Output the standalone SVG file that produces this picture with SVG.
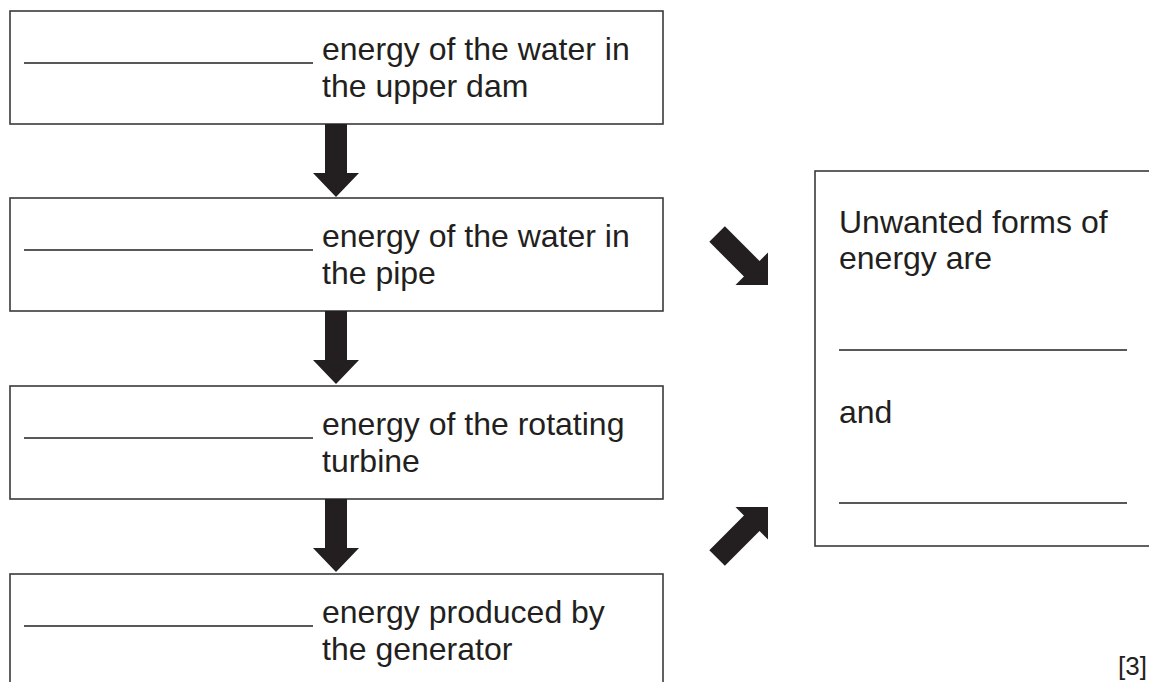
<svg xmlns="http://www.w3.org/2000/svg" width="1149" height="682" viewBox="0 0 1149 682">
  <style>
    .box { fill: #ffffff; stroke: #3a3a3a; stroke-width: 1.6; }
    .blank { stroke: #231f20; stroke-width: 1.6; }
    .txt { font-family: "Liberation Sans", Arial, sans-serif; font-size: 32px; fill: #231f20; }
    .arrow { fill: #231f20; }
  </style>
  <defs>
    <path id="downArrow" d="M-11,0 L11,0 L11,49 L23,49 L0,73 L-23,49 L-11,49 Z"/>
    <path id="diagArrow" d="M0,0 L-23,-23 L-23,-11 L-72,-11 L-72,11 L-23,11 L-23,23 Z"/>
  </defs>
  <rect width="1149" height="682" fill="#ffffff"/>

  <g id="node1">
    <rect class="box" x="10" y="11" width="653" height="113"/>
    <line class="blank" x1="24" y1="63" x2="313" y2="63"/>
    <text class="txt" x="322" y="60">energy of the water in</text>
    <text class="txt" x="322" y="97">the upper dam</text>
  </g>

  <g id="node2">
    <rect class="box" x="10" y="198" width="653" height="113"/>
    <line class="blank" x1="24" y1="250" x2="313" y2="250"/>
    <text class="txt" x="322" y="247">energy of the water in</text>
    <text class="txt" x="322" y="284">the pipe</text>
  </g>

  <g id="node3">
    <rect class="box" x="10" y="386" width="653" height="113"/>
    <line class="blank" x1="24" y1="438" x2="313" y2="438"/>
    <text class="txt" x="322" y="435">energy of the rotating</text>
    <text class="txt" x="322" y="472">turbine</text>
  </g>

  <g id="node4">
    <rect class="box" x="10" y="574" width="653" height="130"/>
    <line class="blank" x1="24" y1="626" x2="313" y2="626"/>
    <text class="txt" x="322" y="623">energy produced by</text>
    <text class="txt" x="322" y="660">the generator</text>
  </g>

  <g id="node5">
    <rect class="box" x="815" y="171" width="400" height="375"/>
    <text class="txt" x="839" y="233">Unwanted forms of</text>
    <text class="txt" x="839" y="269">energy are</text>
    <line class="blank" x1="839" y1="350" x2="1127" y2="350"/>
    <text class="txt" x="839" y="423">and</text>
    <line class="blank" x1="839" y1="503" x2="1127" y2="503"/>
  </g>

  <g id="connectors">
    <use href="#downArrow" class="arrow" transform="translate(336,124)"/>
    <use href="#downArrow" class="arrow" transform="translate(336,311)"/>
    <use href="#downArrow" class="arrow" transform="translate(336,499)"/>
    <use href="#diagArrow" class="arrow" transform="translate(768,285) rotate(45)"/>
    <use href="#diagArrow" class="arrow" transform="translate(768,507) rotate(-45)"/>
  </g>

  <text class="txt" x="1147" y="675" text-anchor="end" style="font-size:26px">[3]</text>
</svg>
